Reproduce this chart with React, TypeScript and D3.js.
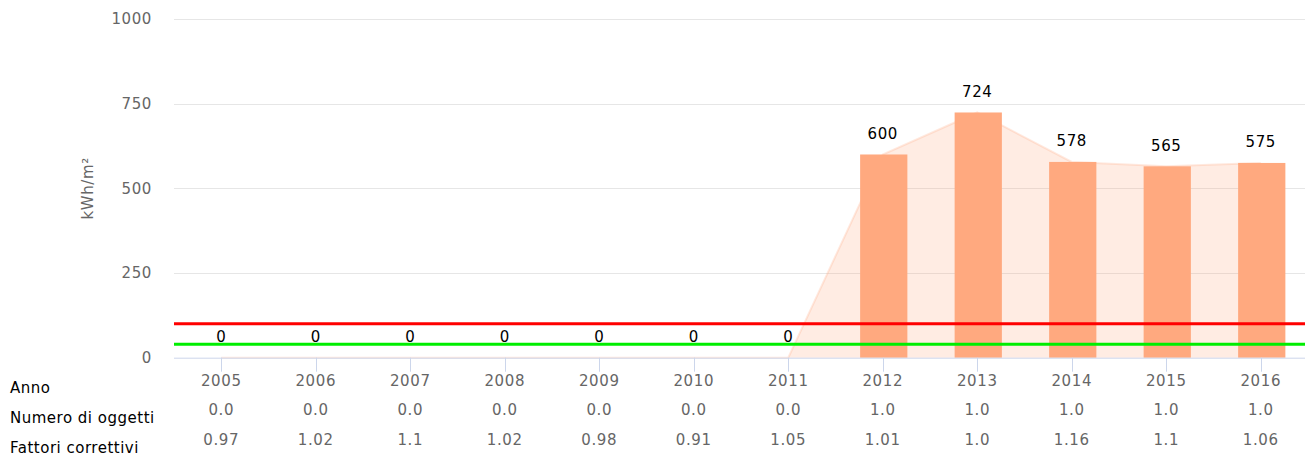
import React from "react";
import * as d3 from "d3";

const years = ["2005", "2006", "2007", "2008", "2009", "2010", "2011", "2012", "2013", "2014", "2015", "2016"];
const consumption = [0, 0, 0, 0, 0, 0, 0, 600, 724, 578, 565, 575];
const numObjects = ["0.0", "0.0", "0.0", "0.0", "0.0", "0.0", "0.0", "1.0", "1.0", "1.0", "1.0", "1.0"];
const factors = ["0.97", "1.02", "1.1", "1.02", "0.98", "0.91", "1.05", "1.01", "1.0", "1.16", "1.1", "1.06"];
const yTicks = [0, 250, 500, 750, 1000];
const redLimit = 100;
const greenLimit = 40;
const rowLabels = ["Anno", "Numero di oggetti", "Fattori correttivi"];

const W = 1305;
const H = 457;
const plotLeft = 174;
const plotRight = 1308;
const plotTop = 19;
const plotBottom = 357.7;
const FONT = "'DejaVu Sans', sans-serif";
const LS = 0.6;

export default function App() {
  const x = d3.scaleBand<string>().domain(years).range([plotLeft, plotRight]).padding(0);
  const y = d3.scaleLinear().domain([0, 1000]).range([plotBottom, plotTop]);
  const cx = (yr: string) => (x(yr) as number) + x.bandwidth() / 2;
  const barW = x.bandwidth() * 0.5;

  const areaGen = d3
    .area<number>()
    .x((_, i) => cx(years[i]))
    .y0(y(0))
    .y1((d) => y(d));
  const lineGen = d3
    .line<number>()
    .x((_, i) => cx(years[i]))
    .y((d) => y(d));

  return (
    <svg width={W} height={H} style={{ position: "absolute", left: 0, top: 0, background: "#fff" }} fontFamily={FONT}>
      {yTicks.filter((t) => t > 0).map((t) => (
        <line key={t} x1={plotLeft} x2={W} y1={Math.round(y(t)) + 0.5} y2={Math.round(y(t)) + 0.5} stroke="#e6e6e6" strokeWidth={1} />
      ))}
      {yTicks.map((t) => (
        <text key={t} x={152} y={y(t)} dy="0.35em" textAnchor="end" fontSize={15} fill="#666" letterSpacing={LS}>
          {t}
        </text>
      ))}
      <text transform={`translate(93,${(plotTop + plotBottom) / 2}) rotate(-90)`} textAnchor="middle" fontSize={15} fill="#666" letterSpacing={LS}>
        kWh/m²
      </text>
      <path d={areaGen(consumption) || ""} fill="#ffa97f" fillOpacity={0.22} />
      <path d={lineGen(consumption) || ""} fill="none" stroke="#ffa97f" strokeOpacity={0.25} strokeWidth={2} />
      {consumption.map((v, i) => (
        <rect key={years[i]} x={cx(years[i]) - barW / 2 + 1} width={barW} y={y(v)} height={y(0) - y(v)} fill="#ffa97f" />
      ))}
      <line x1={plotLeft} x2={W} y1={plotBottom + 0.5} y2={plotBottom + 0.5} stroke="#ccd6eb" strokeWidth={1} />
      {years.map((yr) => (
        <line key={yr} x1={Math.round(cx(yr)) + 0.5} x2={Math.round(cx(yr)) + 0.5} y1={plotBottom} y2={plotBottom + 14} stroke="#ccd6eb" strokeWidth={1} />
      ))}
      <line x1={plotLeft} x2={W} y1={y(redLimit)} y2={y(redLimit)} stroke="#ff0000" strokeWidth={3} />
      <line x1={plotLeft} x2={W} y1={y(greenLimit)} y2={y(greenLimit)} stroke="#00ee00" strokeWidth={3} />
      {consumption.map((v, i) => (
        <text key={years[i]} x={cx(years[i])} y={y(v) - 21} dy="0.35em" textAnchor="middle" fontSize={15} fill="#000" letterSpacing={LS}>
          {v}
        </text>
      ))}
      {years.map((yr, i) => (
        <g key={yr} fontSize={15} fill="#666" textAnchor="middle" letterSpacing={LS}>
          <text x={cx(yr)} y={380.5} dy="0.35em">{yr}</text>
          <text x={cx(yr)} y={410} dy="0.35em">{numObjects[i]}</text>
          <text x={cx(yr)} y={440} dy="0.35em">{factors[i]}</text>
        </g>
      ))}
      {rowLabels.map((l, i) => (
        <text key={l} x={10} y={388 + i * 30} dy="0.35em" fontSize={15} fill="#000" letterSpacing={0.5}>
          {l}
        </text>
      ))}
    </svg>
  );
}
